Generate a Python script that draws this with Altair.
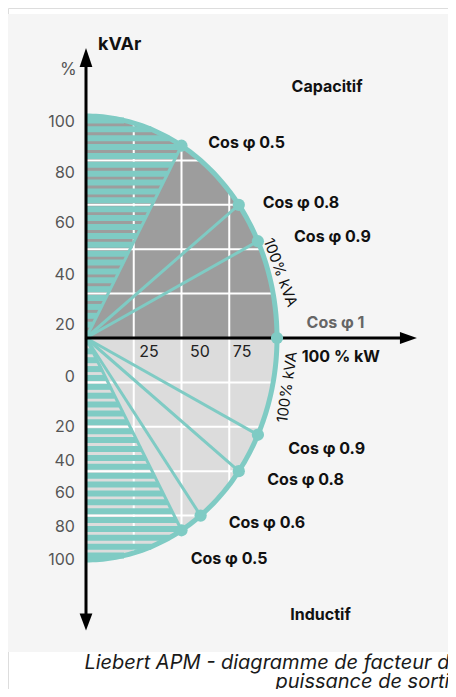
import numpy as np
import pandas as pd
import altair as alt

# ---------------- values ----------------
kva_pct = 100                                # 100 % kVA circle
cos_upper = [0.5, 0.8, 0.9, 1.0]             # capacitive dots
cos_lower = [0.9, 0.8, 0.6, 0.5]             # inductive dots
hatch_cos = 0.5                              # hatched zone limit
x_grid = [25, 50, 75]
y_grid = [20, 40, 60, 80]

x_tick_text = ["25", "50", "75"]
x_tick_x = [33.0, 59.7, 81.7]
x_tick_y = [-6.2, -6.2, -6.2]

y_tick_text = ["100", "80", "60", "40", "20", "0", "20", "40", "60", "80", "100"]
y_tick_y = [97.2, 74.2, 51.7, 28.4, 5.9, -17.4, -40.0, -55.3, -70.0, -85.0, -100.0]

cos_label_text = ["Cos φ 0.5", "Cos φ 0.8", "Cos φ 0.9",
                  "Cos φ 0.9", "Cos φ 0.8", "Cos φ 0.6", "Cos φ 0.5", "100 % kW"]
cos_label_x = [64.0, 92.5, 108.9, 105.9, 94.9, 74.7, 54.8, 112.9]
cos_label_y = [88.0, 60.7, 45.4, -50.1, -64.0, -83.5, -99.7, -8.7]

caption_lines = ["Liebert APM - diagramme de facteur de", "puissance de sortie"]

# ---------------- layout (px per unit) ----------------
W, H = 440, 681
PXX, PXY = 1.91, 2.22
OX, OY = 78, 330
XMIN = -OX / PXX
XMAX = XMIN + W / PXX
YMAX = OY / PXY
YMIN = YMAX - H / PXY

XS = alt.Scale(domain=[XMIN, XMAX], nice=False, zero=False)
YS = alt.Scale(domain=[YMIN, YMAX], nice=False, zero=False)

TEAL = "#7fcbc4"
DARK = "#9d9d9d"
LIGHT = "#dcdcdc"
PANEL = "#f5f5f5"
FONT = "Inter"


def X(f="x"):
    return alt.X(f, type="quantitative", scale=XS, axis=None)


def Y(f="y"):
    return alt.Y(f, type="quantitative", scale=YS, axis=None)


R = kva_pct

# panel
panel_df = pd.DataFrame({"x": [-41.4], "x2": [200.0], "y": [145.9], "y2": [-141.4]})
panel = alt.Chart(panel_df).mark_rect(color=PANEL).encode(
    x=X(), x2="x2", y=Y(), y2="y2")

# quarter fills
th = np.radians(np.linspace(0, 90, 91))
up_df = pd.DataFrame({"x": R * np.cos(th), "y": R * np.sin(th), "y2": 0.0})
lo_df = pd.DataFrame({"x": R * np.cos(th), "y": -R * np.sin(th), "y2": 0.0})
fill_up = alt.Chart(up_df).mark_area(color=DARK, opacity=1).encode(x=X(), y=Y(), y2="y2")
fill_lo = alt.Chart(lo_df).mark_area(color=LIGHT, opacity=1).encode(x=X(), y=Y(), y2="y2")

# grid (white) clipped to circle
gh = [v for v in y_grid] + [-v for v in y_grid]
grid_h_df = pd.DataFrame({"x": 0.0, "x2": [np.sqrt(R**2 - v**2) for v in gh], "y": gh})
grid_v_df = pd.DataFrame({"x": x_grid,
                          "y": [-np.sqrt(R**2 - v**2) for v in x_grid],
                          "y2": [np.sqrt(R**2 - v**2) for v in x_grid]})
grid_h = alt.Chart(grid_h_df).mark_rule(color="white", strokeWidth=2).encode(
    x=X(), x2="x2", y=Y())
grid_v = alt.Chart(grid_v_df).mark_rule(color="white", strokeWidth=2).encode(
    x=X(), y=Y(), y2="y2")

# hatching between y axis and the cos 0.5 line
phi = np.arccos(hatch_cos)
ys = np.arange(2, 100, 4, dtype=float)
xend = np.minimum(ys * hatch_cos / np.sin(phi), np.sqrt(R**2 - ys**2))
hatch_df = pd.DataFrame({"x": 0.0, "x2": np.concatenate([xend, xend]),
                         "y": np.concatenate([ys, -ys])})
hatch = alt.Chart(hatch_df).mark_rule(color=TEAL, strokeWidth=6, strokeCap="butt").encode(
    x=X(), x2="x2", y=Y())

# radial lines and dots
pts = [(R * c, R * np.sin(np.arccos(c))) for c in cos_upper] + \
      [(R * c, -R * np.sin(np.arccos(c))) for c in cos_lower]
pts_df = pd.DataFrame({"x": [p[0] for p in pts], "y": [p[1] for p in pts]})
ray_df = pts_df[pts_df["y"].abs() > 1e-6].assign(x0=0.0, y0=0.0)
rays = alt.Chart(ray_df).mark_rule(color=TEAL, strokeWidth=3).encode(
    x=X("x0"), y=Y("y0"), x2="x", y2="y")

ta = np.radians(np.linspace(90, -90, 181))
arc_df = pd.DataFrame({"x": R * np.cos(ta), "y": R * np.sin(ta), "o": np.arange(181)})
arc = alt.Chart(arc_df).mark_line(color=TEAL, strokeWidth=5).encode(
    x=X(), y=Y(), order="o:Q")

dots = alt.Chart(pts_df).mark_point(filled=True, color=TEAL, size=150, opacity=1).encode(
    x=X(), y=Y())

# axes with arrows
axv_df = pd.DataFrame({"x": [0.0], "y": [126.4], "y2": [-127.9]})
axh_df = pd.DataFrame({"x": [0.0], "x2": [168.8], "y": [0.0]})
axv = alt.Chart(axv_df).mark_rule(color="black", strokeWidth=3).encode(x=X(), y=Y(), y2="y2")
axh = alt.Chart(axh_df).mark_rule(color="black", strokeWidth=3).encode(x=X(), x2="x2", y=Y())
arr_up = alt.Chart(pd.DataFrame({"x": [0.0], "y": [126.4]})).mark_point(
    shape="M0,-1L0.67,1L-0.67,1Z", size=361, filled=True, color="black", opacity=1
).encode(x=X(), y=Y())
arr_dn = alt.Chart(pd.DataFrame({"x": [0.0], "y": [-127.9]})).mark_point(
    shape="M0,1L0.75,-1L-0.75,-1Z", size=289, filled=True, color="black", opacity=1
).encode(x=X(), y=Y())
arr_rt = alt.Chart(pd.DataFrame({"x": [168.8], "y": [0.0]})).mark_point(
    shape="M1,0L-1,-0.72L-1,0.72Z", size=289, filled=True, color="black", opacity=1
).encode(x=X(), y=Y())

# texts
ytick = alt.Chart(pd.DataFrame({"t": y_tick_text, "x": -5.8, "y": y_tick_y})).mark_text(
    align="right", baseline="middle", font=FONT, fontSize=16, color="#555555"
).encode(x=X(), y=Y(), text="t:N")
xtick = alt.Chart(pd.DataFrame({"t": x_tick_text, "x": x_tick_x, "y": x_tick_y})).mark_text(
    align="center", baseline="middle", font=FONT, fontSize=16, color="#222222"
).encode(x=X(), y=Y(), text="t:N")
pct = alt.Chart(pd.DataFrame({"t": ["%"], "x": [-9.2], "y": [120.7]})).mark_text(
    align="center", baseline="middle", font=FONT, fontSize=17, color="#555555"
).encode(x=X(), y=Y(), text="t:N")
kvar = alt.Chart(pd.DataFrame({"t": ["kVAr"], "x": [6.3], "y": [132.0]})).mark_text(
    align="left", baseline="middle", font=FONT, fontSize=18, fontWeight="bold", color="#111111"
).encode(x=X(), y=Y(), text="t:N")
zones = alt.Chart(pd.DataFrame({"t": ["Capacitif", "Inductif"], "x": [126.2, 122.8],
                                "y": [113.1, -124.8]})).mark_text(
    align="center", baseline="middle", font=FONT, fontSize=16, fontWeight="bold", color="#111111"
).encode(x=X(), y=Y(), text="t:N")
cosl = alt.Chart(pd.DataFrame({"t": cos_label_text, "x": cos_label_x, "y": cos_label_y})).mark_text(
    align="left", baseline="middle", font=FONT, fontSize=16, fontWeight="bold", color="#111111"
).encode(x=X(), y=Y(), text="t:N")
cos1 = alt.Chart(pd.DataFrame({"t": ["Cos φ 1"], "x": [115.5], "y": [6.6]})).mark_text(
    align="left", baseline="middle", font=FONT, fontSize=16, fontWeight="bold", color="#666666"
).encode(x=X(), y=Y(), text="t:N")
kva_up = alt.Chart(pd.DataFrame({"t": ["100% kVA"], "x": [101.8], "y": [29.5]})).mark_text(
    align="center", baseline="middle", font=FONT, fontSize=15, angle=70, color="#111111"
).encode(x=X(), y=Y(), text="t:N")
kva_lo = alt.Chart(pd.DataFrame({"t": ["100% kVA"], "x": [105.2], "y": [-22.1]})).mark_text(
    align="center", baseline="middle", font=FONT, fontSize=15, angle=278, color="#111111"
).encode(x=X(), y=Y(), text="t:N")
caption = alt.Chart(pd.DataFrame({
    "t": caption_lines, "x": [196.3, 196.3], "y": [-146.4, -154.9]})).mark_text(
    align="right", baseline="middle", font=FONT, fontSize=20, fontStyle="italic", color="#1a1a1a"
).encode(x=X(), y=Y(), text="t:N")

chart = alt.layer(
    panel, fill_up, fill_lo, grid_h, grid_v, hatch, rays, arc, axv, axh,
    arr_up, arr_dn, arr_rt, dots,
    ytick, xtick, pct, kvar, zones, cosl, cos1, kva_up, kva_lo, caption
).properties(
    width=W, height=H, autosize=alt.AutoSizeParams(type="none"), padding=0
).configure_view(stroke=None).configure(background="white")

chart.save("out.html", embed_options={"renderer": "svg", "actions": False})
